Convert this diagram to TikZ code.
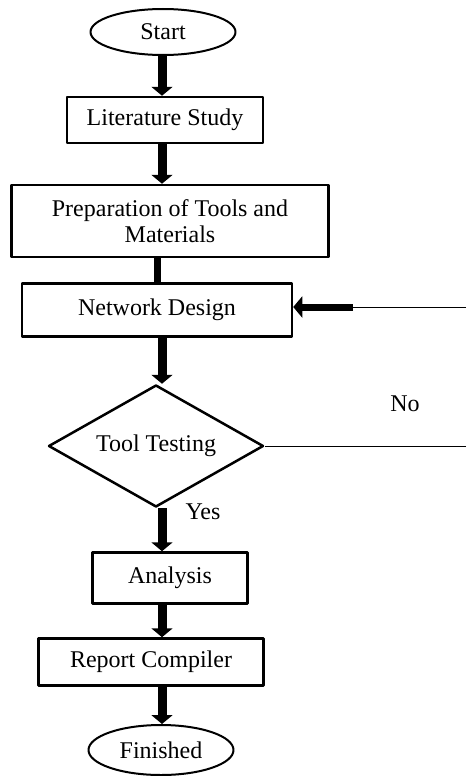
\documentclass[tikz,border=0pt]{standalone}
\usepackage{fontspec}
\setmainfont{Liberation Serif}
\usetikzlibrary{shapes.geometric,arrows.meta}
\tikzset{
	box/.style={draw,line width=2.5pt,inner sep=0pt,align=center},
	oval/.style={draw,ellipse,line width=2pt,inner sep=0pt,minimum width=145pt},
	flowarrow/.style={->,line width=9pt},
	backline/.style={line width=1pt}
}
\begin{document}
\begin{tikzpicture}[>={Triangle[width=21pt,length=9pt]},line join=round,x=1pt,y=-1pt,font=\fontsize{24}{26}\selectfont]
	\useasboundingbox (0,0) rectangle (466,776);
	\coordinate (col) at (162,0);
	\node[oval,minimum height=46pt] (start) at (163,32) {Start};
	\node[box,minimum width=196pt,minimum height=46pt] (lit) at (165,120) {Literature Study};
	\node[box,minimum width=317pt,minimum height=72pt] (prep) at (170,221) {Preparation of Tools and\\Materials};
	\node[box,minimum width=270pt,minimum height=53pt] (design) at (157,310) {Network Design};
	\node[box,diamond,aspect=1.76,minimum width=215pt,minimum height=122pt] (test) at (156,446) {Tool Testing};
	\node[box,minimum width=155pt,minimum height=51pt] (analysis) at (170,578) {Analysis};
	\node[box,minimum width=225pt,minimum height=47pt] (report) at (151,662) {Report Compiler};
	\node[oval,minimum height=50pt] (finish) at (161,750) {Finished};
	\node (yes) at (203,512) {Yes};
	\node (no) at (405,404) {No};
	\coordinate (backin) at (353,307);
	\coordinate (backtop) at (466,307);
	\coordinate (backbot) at (466,446);
	\draw[flowarrow] (start.south -| col) -- (lit.north -| col);
	\draw[flowarrow] (lit.south -| col) -- (prep.north -| col);
	\draw[line width=7pt] (prep.south -| design) -- (design.north);
	\draw[flowarrow] (design.south -| col) -- (test.north -| col);
	\draw[flowarrow] (test.south -| col) -- (analysis.north -| col);
	\draw[flowarrow] (analysis.south -| col) -- (report.north -| col);
	\draw[flowarrow] (report.south -| col) -- (finish.north -| col);
	\draw[backline] (backbot) -- (test.east);
	\draw[backline] (backtop) -- (backin);
	\draw[->,line width=7pt] (backin) -- (design.east |- backin);
\end{tikzpicture}
\end{document}
